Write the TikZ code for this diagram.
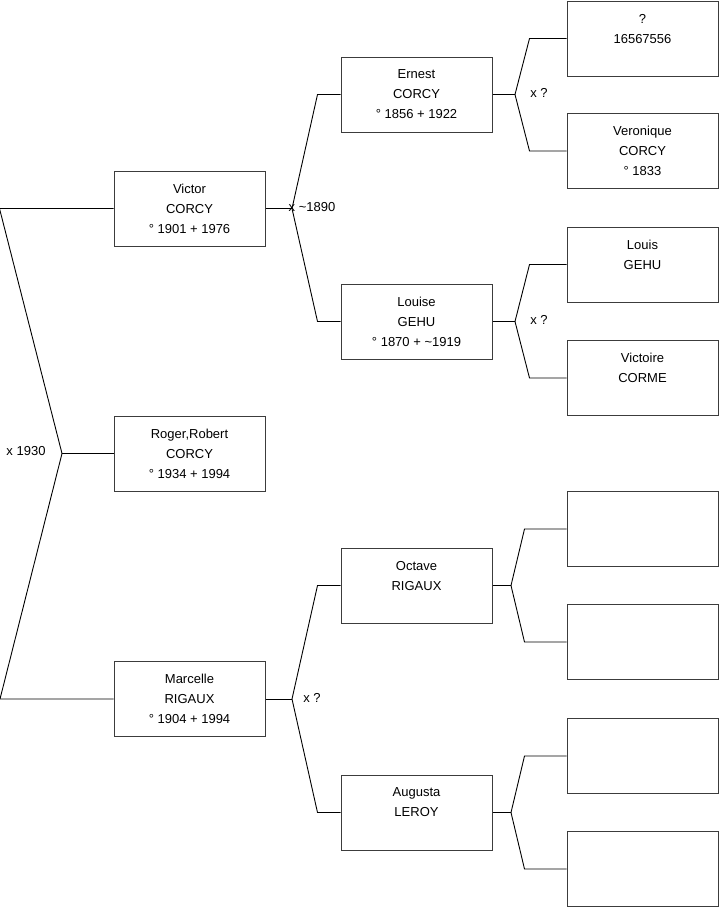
\documentclass[tikz,border=0pt]{standalone}
\usepackage{fontspec}
\usepackage{tikz}
\setmainfont{Liberation Sans}
\definecolor{boxGray}{RGB}{60, 60, 60}

\begin{document}
\begin{tikzpicture}[x=1pt, y=-1pt,
      person/.style={draw=boxGray, line width=1pt, minimum width=151pt,
                  minimum height=75pt, inner sep=0pt, align=center,
                  font=\fontsize{13}{20}\selectfont},
      link/.style={line width=0.9pt, color=black},
      union/.style={font=\fontsize{13}{16}\selectfont, inner sep=0pt}
    ]
    \useasboundingbox (0,0) rectangle (719,908);

    % generation 1
    \node[person] (victor)   at (189.5,208.5) {Victor\\CORCY\\° 1901 + 1976};
    \node[person] (roger)    at (189.5,453.5) {Roger,Robert\\CORCY\\° 1934 + 1994};
    \node[person] (marcelle) at (189.5,699)   {Marcelle\\RIGAUX\\° 1904 + 1994};

    % generation 2
    \node[person] (ernest)  at (416.5,94.5)  {Ernest\\CORCY\\° 1856 + 1922};
    \node[person] (louise)  at (416.5,321.5) {Louise\\GEHU\\° 1870 + \textasciitilde1919};
    \node[person] (octave)  at (416.5,585.5) {Octave\\RIGAUX\\\mbox{}};
    \node[person] (augusta) at (416.5,812.5) {Augusta\\LEROY\\\mbox{}};

    % generation 3
    \node[person] (inconnu)   at (642.5,38.5) {?\\16567556\\\mbox{}};
    \node[person] (veronique) at (642.5,151)  {Veronique\\CORCY\\° 1833};
    \node[person] (louis)     at (642.5,264.5){Louis\\GEHU\\\mbox{}};
    \node[person] (victoire)  at (642.5,378)  {Victoire\\CORME\\\mbox{}};
    \node[person] (octaveP)   at (642.5,529)  {};
    \node[person] (octaveM)   at (642.5,642)  {};
    \node[person] (augustaP)  at (642.5,756)  {};
    \node[person] (augustaM)  at (642.5,869)  {};

    % junctions
    \coordinate (jRoger)    at (62,453.5);
    \coordinate (jVictor)   at (292,208.5);
    \coordinate (jMarcelle) at (292,699);
    \coordinate (jErnest)   at (515,94.5);
    \coordinate (jLouise)   at (515,321.5);
    \coordinate (jOctave)   at (511,585.5);
    \coordinate (jAugusta)  at (511,812.5);

    \draw[link] (roger.west) -- (jRoger);
    \draw[link] (victor.west) -- ++(-114,0) -- (jRoger) -- (0,699) -- (marcelle.west);

    \draw[link] (victor.east) -- (jVictor);
    \draw[link] (ernest.west) -- ++(-23,0) -- (jVictor) -- ([xshift=-23pt]louise.west) -- (louise.west);
    \draw[link] (marcelle.east) -- (jMarcelle);
    \draw[link] (octave.west) -- ++(-23,0) -- (jMarcelle) -- ([xshift=-23pt]augusta.west) -- (augusta.west);

    \draw[link] (ernest.east) -- (jErnest);
    \draw[link] (inconnu.west) -- ++(-37,0) -- (jErnest) -- ([xshift=-37pt]veronique.west) -- (veronique.west);
    \draw[link] (louise.east) -- (jLouise);
    \draw[link] (louis.west) -- ++(-37,0) -- (jLouise) -- ([xshift=-37pt]victoire.west) -- (victoire.west);
    \draw[link] (octave.east) -- (jOctave);
    \draw[link] (octaveP.west) -- ++(-42,0) -- (jOctave) -- ([xshift=-42pt]octaveM.west) -- (octaveM.west);
    \draw[link] (augusta.east) -- (jAugusta);
    \draw[link] (augustaP.west) -- ++(-42,0) -- (jAugusta) -- ([xshift=-42pt]augustaM.west) -- (augustaM.west);

    % marriages
    \node[union] (mRoger)    at (26,451)    {x 1930};
    \node[union, anchor=west] (mVictor) at (288.5,207) {x \textasciitilde1890};
    \node[union] (mMarcelle) at (312,698)   {x ?};
    \node[union] (mErnest)   at (539,93)    {x ?};
    \node[union] (mLouise)   at (539,320)   {x ?};
  \end{tikzpicture}
\end{document}
